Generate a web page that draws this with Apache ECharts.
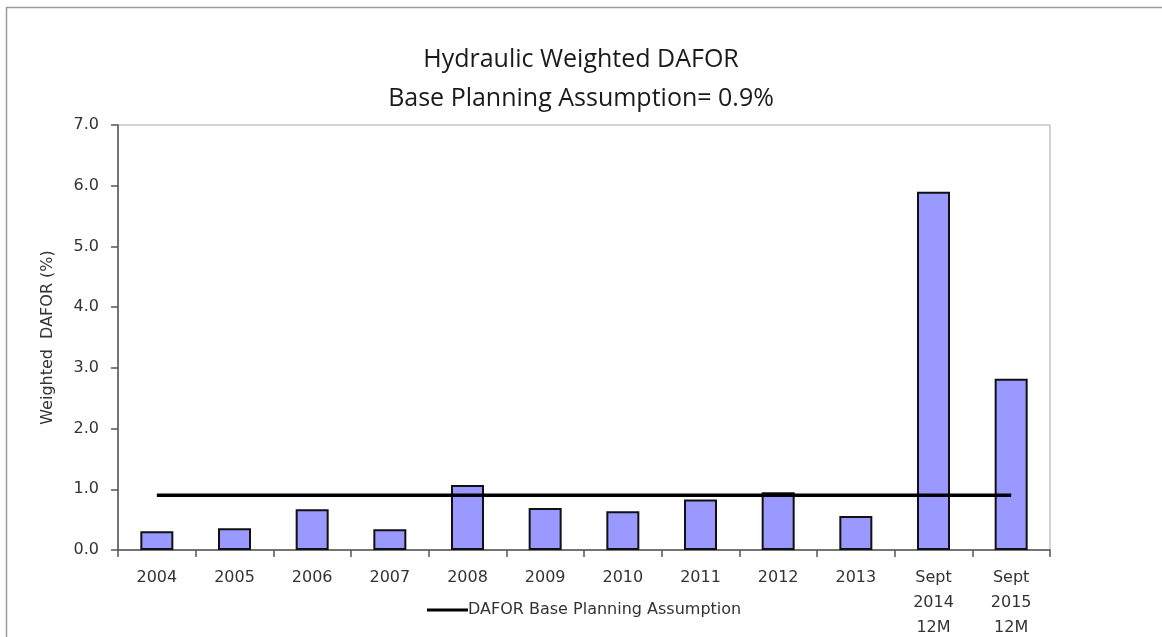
<!DOCTYPE html>
<html>
<head>
<meta charset="utf-8">
<script src="https://cdn.jsdelivr.net/npm/echarts@6/dist/echarts.min.js"></script>
<style>
html,body{margin:0;padding:0;background:#fff;}
#chart{width:1162px;height:637px;}
</style>
</head>
<body>
<div id="chart"></div>
<script>
const categories = ['2004','2005','2006','2007','2008','2009','2010','2011','2012','2013','Sept\n2014\n12M','Sept\n2015\n12M'];
const daforValues = [0.31,0.36,0.67,0.34,1.07,0.69,0.64,0.83,0.95,0.56,5.90,2.82];
const baseAssumption = [0.9,0.9,0.9,0.9,0.9,0.9,0.9,0.9,0.9,0.9,0.9,0.9];
const yTicks = {min:0, max:7, interval:1};
const titleLines = ['Hydraulic Weighted DAFOR','Base Planning Assumption= 0.9%'];
const yAxisName = 'Weighted  DAFOR (%)';
const lineName = 'DAFOR Base Planning Assumption';

const chart = echarts.init(document.getElementById('chart'), null, {renderer:'canvas'});
const labelFont = 'DejaVu Sans, Verdana, sans-serif';
chart.setOption({
  animation:false,
  backgroundColor:'#ffffff',
  title:{
    text: titleLines.join('\n'),
    left:'center', top:35,
    textStyle:{fontFamily:'Open Sans, sans-serif', fontSize:25, fontWeight:'normal', color:'#1a1a1a', lineHeight:39}
  },
  graphic:[
    {type:'line', shape:{x1:6,y1:7.5,x2:1162,y2:7.5}, style:{stroke:'#9a9a9a', lineWidth:1.5}},
    {type:'line', shape:{x1:6.5,y1:7,x2:6.5,y2:637}, style:{stroke:'#9a9a9a', lineWidth:1.5}}
  ],
  legend:{
    data:[lineName],
    left:422, top:597,
    icon:'rect', itemWidth:41, itemHeight:3, itemGap:0,
    textStyle:{fontFamily:labelFont, fontSize:16, color:'#333', padding:[0,0,0,-5]}
  },
  grid:{left:118, right:112, top:125, bottom:87, show:true, borderColor:'#a6a6a6', borderWidth:1, containLabel:false, outerBoundsMode:'none'},
  xAxis:{
    type:'category', data:categories,
    axisLine:{lineStyle:{color:'#555', width:1.5}},
    axisTick:{show:true, length:7, lineStyle:{color:'#555', width:1.5}},
    axisLabel:{fontFamily:labelFont, fontSize:16, color:'#333', margin:15, lineHeight:25, interval:0}
  },
  yAxis:{
    type:'value', min:yTicks.min, max:yTicks.max, interval:yTicks.interval,
    name:yAxisName, nameLocation:'middle', nameGap:62, nameRotate:90,
    nameTextStyle:{fontFamily:labelFont, fontSize:16, color:'#333'},
    axisLine:{show:true, lineStyle:{color:'#555', width:1.5}},
    axisTick:{show:true, length:7, lineStyle:{color:'#555', width:1.5}},
    splitLine:{show:false},
    axisLabel:{fontFamily:labelFont, fontSize:16, color:'#333', margin:19, formatter:(v)=>v.toFixed(1)}
  },
  series:[
    {type:'bar', name:'Weighted DAFOR', data:daforValues, barWidth:33,
     itemStyle:{color:'#9999ff', borderColor:'#111', borderWidth:2}, z:2},
    {type:'line', name:lineName, data:baseAssumption, symbol:'none',
     lineStyle:{color:'#000', width:3.5}, itemStyle:{color:'#000'}, z:3}
  ]
});
</script>
</body>
</html>
